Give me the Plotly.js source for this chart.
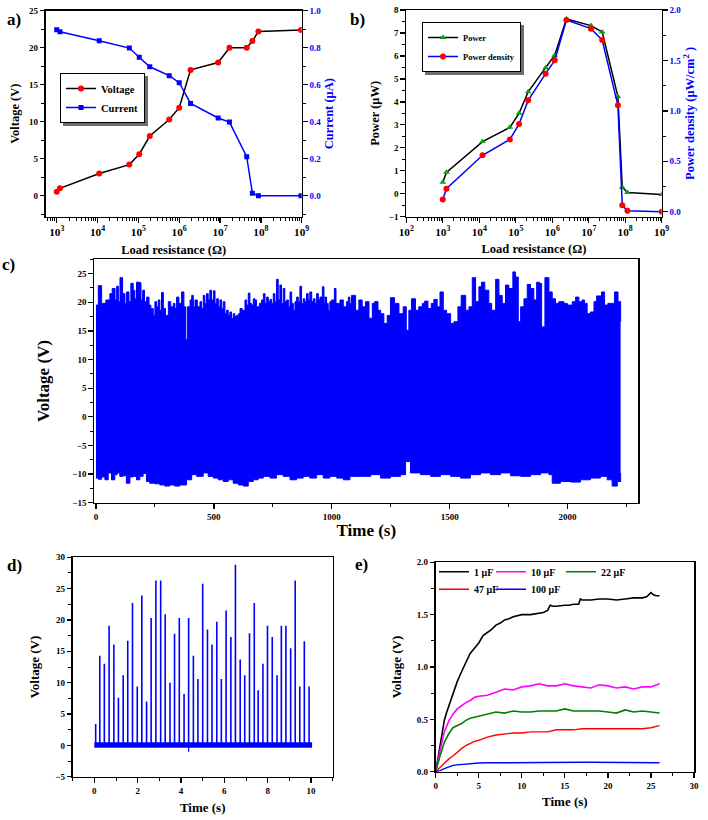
<!DOCTYPE html>
<html>
<head>
<meta charset="utf-8">
<script src="https://cdn.plot.ly/plotly-3.0.1.min.js"></script>
<style>
  html, body { margin: 0; padding: 0; background: #ffffff; }
  #chart { width: 708px; height: 820px; }
</style>
</head>
<body>
<div id="chart"></div>
<script>
// ---------- (a) voltage / current vs load resistance ----------
const aResistance = [1000, 1200, 11000, 60000, 105000, 190000, 570000, 1000000, 1900000,
                     9000000, 17000000, 45000000, 62000000, 87000000, 960000000];
const aVoltage = [0.54, 1.0, 3.0, 4.2, 5.6, 8.06, 10.3, 11.9, 17.0, 18.0, 20.0, 20.0, 20.9, 22.2, 22.4];
const aCurrent = [0.897, 0.886, 0.838, 0.798, 0.748, 0.697, 0.649, 0.611, 0.499, 0.42, 0.398, 0.211, 0.013, 0.0, 0.0];

// ---------- (b) power / power density vs load resistance ----------
const bResistance = [1000, 1260, 12300, 69000, 123000, 219000, 660000, 1170000, 2450000,
                     11500000, 23400000, 63000000, 83000000, 115000000, 1000000000];
const bPower = [0.5, 0.93, 2.27, 2.89, 3.50, 4.44, 5.49, 6.03, 7.61, 7.32, 7.04, 4.23, 0.28, 0.05, -0.03];
const bDensity = [0.122, 0.228, 0.559, 0.717, 0.869, 1.104, 1.369, 1.501, 1.901, 1.815, 1.702, 1.055, 0.063, 0.010, 0.0];

// ---------- (c) long-run output: peak and trough envelopes ----------
const cPeakTime = [0, 10, 24, 42, 59, 69, 81, 88, 95, 102, 113, 123, 130, 140, 148, 158, 165, 172, 184, 191,
  198, 206, 215, 225, 233, 243, 250, 257, 264, 271, 278, 286, 295, 307, 317, 328, 335, 342, 352, 363,
  373, 380, 387, 399, 406, 413, 420, 430, 441, 448, 455, 462, 469, 476, 483, 490, 498, 505, 512, 519,
  526, 533, 540, 547, 554, 561, 568, 575, 582, 589, 596, 604, 611, 620, 632, 639, 646, 653, 660, 667,
  674, 681, 693, 702, 710, 717, 724, 731, 738, 745, 752, 759, 766, 773, 780, 787, 794, 801, 809, 816,
  823, 830, 837, 844, 851, 858, 865, 872, 879, 886, 893, 900, 907, 915, 922, 929, 936, 943, 950, 960,
  967, 971, 978, 985, 992, 999, 1011, 1018, 1028, 1035, 1042, 1049, 1056, 1063, 1070, 1077, 1084,
  1101, 1115, 1129, 1143, 1158, 1172, 1182, 1196, 1207, 1221, 1235, 1249, 1266, 1285, 1303, 1316, 1327,
  1338, 1355, 1369, 1384, 1394, 1408, 1422, 1433, 1447, 1459, 1473, 1487, 1504, 1518, 1535, 1549, 1568,
  1582, 1596, 1610, 1624, 1635, 1649, 1666, 1678, 1695, 1709, 1723, 1737, 1751, 1768, 1779, 1791, 1801,
  1815, 1829, 1843, 1857, 1869, 1880, 1890, 1904, 1921, 1935, 1949, 1963, 1985, 1999, 2020, 2034, 2048,
  2062, 2072, 2083, 2097, 2112, 2123, 2144, 2157, 2171, 2185, 2199, 2214, 2225];
const cPeak = [19.5, 22.9, 19.8, 20.4, 21.5, 22.4, 20.4, 22.8, 20.1, 24.3, 21.5, 19.8, 21.8, 20.1, 23.3, 22.1, 20.6, 23.5, 23.4, 20.4,
  22.1, 20.1, 20.9, 19.5, 18.9, 17.7, 20.1, 19.2, 20.4, 18.6, 21.7, 18.9, 17.7, 20.1, 19.2, 19.8, 18.9, 20.9, 19.8, 21.8,
  19.2, 13.5, 19.2, 20.4, 21.2, 19.2, 20.4, 19.2, 20.1, 18.9, 21.2, 19.8, 21.5, 20.4, 22.1, 20.4, 22.0, 19.8, 20.6, 19.2,
  20.4, 18.9, 20.1, 18.0, 18.6, 17.7, 18.3, 17.2, 18.0, 17.5, 17.7, 18.0, 18.9, 18.6, 20.4, 19.5, 21.6, 19.8, 19.5, 20.6,
  20.4, 19.2, 19.8, 20.4, 21.5, 19.8, 20.9, 20.1, 20.5, 19.8, 21.5, 20.1, 24.0, 20.4, 23.0, 19.8, 22.4, 20.1, 20.4, 19.2,
  21.8, 19.8, 18.6, 20.1, 20.9, 20.1, 22.8, 19.8, 20.6, 20.1, 21.5, 20.4, 21.8, 20.1, 20.6, 19.8, 21.5, 20.4, 20.9, 22.7,
  19.8, 20.9, 19.8, 18.6, 20.1, 20.4, 22.4, 19.8, 19.8, 20.4, 20.4, 19.2, 19.2, 20.1, 20.9, 19.8, 21.2,
  18.6, 20.4, 19.2, 20.1, 17.2, 19.8, 20.1, 18.6, 18.0, 16.3, 17.7, 20.8, 19.8, 18.0, 19.2, 15.1, 18.6,
  20.6, 18.6, 19.2, 19.8, 20.2, 18.9, 19.8, 20.5, 19.2, 21.8, 18.6, 18.0, 16.3, 16.6, 19.2, 21.2, 18.6,
  19.2, 24.3, 20.1, 22.7, 23.5, 22.1, 19.8, 18.6, 24.0, 21.2, 19.8, 23.0, 22.4, 25.3, 24.4, 16.6, 19.2,
  20.6, 23.1, 22.4, 20.4, 23.5, 23.3, 15.7, 24.3, 21.8, 20.6, 19.8, 20.1, 19.8, 19.5, 20.1, 20.9, 20.1,
  20.4, 19.8, 18.0, 18.3, 20.1, 21.1, 21.8, 19.5, 19.8, 19.8, 21.8, 20.1, 16.6];
const cTroughTime = [0, 10, 24, 38, 52, 66, 80, 90, 101, 115, 129, 144, 158, 172, 186, 200, 214, 228, 250, 271,
  292, 313, 334, 356, 384, 406, 427, 455, 476, 498, 519, 540, 561, 582, 604, 625, 646, 667, 688, 710,
  738, 766, 794, 823, 851, 879, 907, 936, 964, 992, 1021, 1049, 1077, 1122, 1165, 1207, 1249, 1292, 1313,
  1334, 1376, 1419, 1461, 1504, 1546, 1588, 1631, 1673, 1716, 1758, 1801, 1843, 1886, 1921, 1935, 1970,
  2013, 2055, 2097, 2140, 2168, 2189, 2211, 2225];
const cTrough = [-10.7, -10.9, -10.5, -11.0, -9.8, -11.0, -10.1, -9.8, -10.4, -10.3, -11.6, -10.5, -10.4, -11.0, -10.4, -9.9, -11.3, -11.6, -11.7, -11.9,
  -12.1, -11.9, -12.1, -11.9, -11.0, -10.1, -10.4, -9.8, -10.4, -10.7, -11.0, -11.3, -11.0, -11.6, -11.9, -12.1, -11.3, -11.0, -10.7, -10.4,
  -10.7, -10.1, -10.4, -11.0, -10.7, -10.4, -10.7, -10.1, -10.7, -10.4, -10.7, -11.0, -10.4, -10.4, -10.1, -10.7, -10.4, -10.1, -7.8,
  -9.8, -10.1, -10.4, -10.1, -10.4, -10.7, -10.1, -9.8, -10.1, -9.8, -10.3, -10.4, -10.1, -9.8, -10.1, -11.6, -11.3,
  -11.4, -11.0, -10.7, -10.4, -11.0, -12.1, -11.3, -9.8];

// ---------- (d) pulse train over 10 s ----------
const dPulseTime = [0.06, 0.25, 0.46, 0.68, 0.90, 1.11, 1.33, 1.54, 1.76, 1.98, 2.19, 2.41, 2.62, 2.84, 3.06, 3.27,
  3.49, 3.70, 3.92, 4.14, 4.35, 4.57, 4.78, 5.00, 5.22, 5.43, 5.65, 5.86, 6.08, 6.30, 6.51, 6.73, 6.94, 7.16,
  7.38, 7.56, 7.78, 7.99, 8.21, 8.43, 8.63, 8.84, 9.06, 9.27, 9.48, 9.69, 9.91];
const dPulseV = [3.4, 14.3, 13.0, 19.1, 16.1, 7.6, 11.2, 16.7, 22.7, 9.4, 23.9, 7.0, 20.3, 26.3, 26.3, 20.9,
  10.0, 17.8, 20.3, 8.2, 20.3, 14.3, 10.6, 25.8, 18.5, 16.1, 19.7, 10.6, 21.5, 17.3, 28.8, 13.7, 11.2, 17.9,
  22.7, 8.8, 13.0, 19.1, 17.3, 11.2, 19.1, 19.1, 15.5, 26.3, 9.4, 16.6, 9.4];
const dBaseTime = [0, 10.05];
const dBaseV = [0.05, 0.05];
const dDipTime = [4.35];
const dDipV = [-1.0];

// ---------- (e) capacitor charging curves ----------
const eTimeFast = [0, 0.25, 0.5, 0.75, 1, 1.25, 1.5, 2, 2.5, 3, 3.5, 4, 4.5, 5, 5.5, 6, 6.5, 7, 7.5, 8, 8.5, 9,
  9.5, 10, 11, 12, 12.5, 13, 13.3, 13.6, 14, 15, 15.5, 16, 16.6, 16.8, 17, 18, 19, 20, 21, 22, 23, 24, 24.5,
  25, 25.3, 25.6, 26];
const e1uF = [0, 0.12, 0.24, 0.38, 0.49, 0.56, 0.62, 0.75, 0.86, 0.955, 1.05, 1.13, 1.18, 1.23, 1.30, 1.33,
  1.36, 1.40, 1.42, 1.45, 1.46, 1.48, 1.49, 1.50, 1.50, 1.51, 1.52, 1.54, 1.59, 1.58, 1.58, 1.59, 1.59, 1.60,
  1.60, 1.65, 1.64, 1.64, 1.65, 1.65, 1.64, 1.65, 1.66, 1.66, 1.67, 1.71, 1.69, 1.68, 1.68];
const eTime = [0, 0.25, 0.5, 1, 1.5, 2, 2.5, 3, 3.5, 4, 4.5, 5, 6, 7, 8, 9, 10, 11, 12, 13, 14, 15, 16, 17, 18,
  19, 20, 21, 22, 23, 24, 25, 26];
const e10uF = [0, 0.12, 0.2, 0.38, 0.48, 0.55, 0.60, 0.63, 0.66, 0.68, 0.71, 0.72, 0.73, 0.76, 0.79, 0.78, 0.81,
  0.82, 0.84, 0.82, 0.82, 0.84, 0.82, 0.81, 0.80, 0.83, 0.82, 0.80, 0.81, 0.79, 0.81, 0.81, 0.84];
const e22uF = [0, 0.09, 0.15, 0.28, 0.36, 0.42, 0.44, 0.46, 0.49, 0.51, 0.52, 0.53, 0.55, 0.57, 0.56, 0.58, 0.57,
  0.57, 0.58, 0.58, 0.58, 0.60, 0.58, 0.58, 0.58, 0.58, 0.57, 0.56, 0.59, 0.57, 0.58, 0.57, 0.56];
const e47uF = [0, 0.02, 0.04, 0.08, 0.12, 0.15, 0.19, 0.22, 0.25, 0.27, 0.29, 0.30, 0.33, 0.35, 0.36, 0.37, 0.37,
  0.38, 0.38, 0.38, 0.40, 0.40, 0.40, 0.41, 0.41, 0.41, 0.41, 0.41, 0.41, 0.41, 0.41, 0.42, 0.44];
const e100uF = [0, 0.005, 0.01, 0.03, 0.045, 0.06, 0.065, 0.07, 0.075, 0.08, 0.082, 0.083, 0.085, 0.086, 0.087,
  0.088, 0.09, 0.09, 0.09, 0.09, 0.09, 0.09, 0.09, 0.09, 0.09, 0.09, 0.09, 0.09, 0.09, 0.088, 0.087, 0.087, 0.085];

// ---------- styling helpers ----------
const SERIF = '"Liberation Serif", "Times New Roman", serif';
const BLUE = '#0000ff';
const W = 708, H = 820;
const px = v => v / W;           // horizontal pixel -> paper fraction
const py = v => 1 - v / H;       // vertical pixel -> paper fraction

function axis(opts) {
  const color = opts.labelColor || 'black';
  const out = {
    showline: true, linecolor: 'black', linewidth: 1.5, mirror: true,
    ticks: 'outside', ticklen: 4.5, tickwidth: 1.3, tickcolor: 'black',
    showgrid: false, zeroline: false,
    tickfont: { family: SERIF, size: 9, color: color, weight: 'bold' },
    minor: { ticks: 'outside', ticklen: 3, tickwidth: 1, tickcolor: 'black', showgrid: false },
    title: { text: opts.title || '', font: { family: SERIF, size: opts.titleSize || 12.5, color: color, weight: 'bold' },
             standoff: opts.standoff }
  };
  if (opts.minorDtick !== undefined) out.minor.dtick = opts.minorDtick;
  ['labelColor', 'title', 'titleSize', 'standoff', 'minorDtick'].forEach(k => delete opts[k]);
  return Object.assign(out, opts);
}

// pulse train of panel (d): vertical strokes rising from the baseline
const dX = [], dY = [];
dPulseTime.forEach((t, i) => { dX.push(t, t, t); dY.push(0, dPulseV[i], 0); });
const dipX = [], dipY = [];
dDipTime.forEach((t, i) => { dipX.push(t, t); dipY.push(0, dDipV[i]); });

const traces = [
  // (a)
  { x: aResistance, y: aVoltage, name: 'Voltage', xaxis: 'x', yaxis: 'y', mode: 'lines+markers',
    line: { color: 'black', width: 1.5 }, marker: { color: '#ff0000', size: 6, symbol: 'circle' }, legend: 'legend' },
  { x: aResistance, y: aCurrent, name: 'Current', xaxis: 'x', yaxis: 'y2', mode: 'lines+markers',
    line: { color: BLUE, width: 1.5 }, marker: { color: BLUE, size: 5, symbol: 'square' }, legend: 'legend' },
  // (b)
  { x: bResistance, y: bPower, name: 'Power', xaxis: 'x2', yaxis: 'y3', mode: 'lines+markers',
    line: { color: 'black', width: 1.5 }, marker: { color: '#10a010', size: 6, symbol: 'triangle-up' }, legend: 'legend2' },
  { x: bResistance, y: bDensity, name: 'Power density', xaxis: 'x2', yaxis: 'y4', mode: 'lines+markers',
    line: { color: BLUE, width: 1.5 }, marker: { color: '#ff0000', size: 6, symbol: 'circle' }, legend: 'legend2' },
  // (c)
  { x: cPeakTime, y: cPeak, xaxis: 'x3', yaxis: 'y5', mode: 'lines', showlegend: false,
    line: { color: BLUE, width: 1, shape: 'hv' }, hoverinfo: 'skip' },
  { x: cTroughTime, y: cTrough, xaxis: 'x3', yaxis: 'y5', mode: 'lines', showlegend: false,
    fill: 'tonexty', fillcolor: BLUE, line: { color: BLUE, width: 1, shape: 'hv' }, hoverinfo: 'skip' },
  // (d)
  { x: dBaseTime, y: dBaseV, xaxis: 'x4', yaxis: 'y6', mode: 'lines', showlegend: false,
    line: { color: BLUE, width: 5.5 } },
  { x: dX, y: dY, xaxis: 'x4', yaxis: 'y6', mode: 'lines', showlegend: false,
    line: { color: BLUE, width: 1.6 } },
  { x: dipX, y: dipY, xaxis: 'x4', yaxis: 'y6', mode: 'lines', showlegend: false,
    line: { color: BLUE, width: 1.2 } },
  // (e) — each series has its own single-entry legend so the key forms a 3 + 2 grid
  { x: eTimeFast, y: e1uF, name: '1 μF', xaxis: 'x5', yaxis: 'y7', mode: 'lines',
    line: { color: 'black', width: 1.6 }, legend: 'legend3' },
  { x: eTime, y: e10uF, name: '10 μF', xaxis: 'x5', yaxis: 'y7', mode: 'lines',
    line: { color: '#ff00ff', width: 1.6 }, legend: 'legend4' },
  { x: eTime, y: e22uF, name: '22 μF', xaxis: 'x5', yaxis: 'y7', mode: 'lines',
    line: { color: '#008000', width: 1.6 }, legend: 'legend5' },
  { x: eTime, y: e47uF, name: '47 μF', xaxis: 'x5', yaxis: 'y7', mode: 'lines',
    line: { color: '#ff0000', width: 1.4 }, legend: 'legend6' },
  { x: eTime, y: e100uF, name: '100 μF', xaxis: 'x5', yaxis: 'y7', mode: 'lines',
    line: { color: BLUE, width: 1.4 }, legend: 'legend7' }
];

const legendFont = size => ({ family: SERIF, size: size, color: 'black', weight: 'bold' });
const keyE = (left, rowY) => ({ x: px(left), y: py(rowY), xanchor: 'left', yanchor: 'middle',
  bgcolor: 'rgba(0,0,0,0)', borderwidth: 0, font: legendFont(10) });

const layout = {
  width: W, height: H,
  margin: { l: 0, r: 0, t: 0, b: 0, pad: 0 },
  paper_bgcolor: 'white', plot_bgcolor: 'white',
  font: { family: SERIF, color: 'black', weight: 'bold' },
  showlegend: true,

  // (a)
  xaxis: axis({ type: 'log', domain: [px(45.7), px(301.7)], range: [2.73, 9], anchor: 'y',
    dtick: 1, exponentformat: 'power', minorDtick: 'D1',
    title: 'Load resistance (Ω)', standoff: 8 }),
  yaxis: axis({ domain: [py(216.7), py(10.7)], range: [-2.84, 25], anchor: 'x', dtick: 5, minorDtick: 2.5,
    title: 'Voltage (V)', standoff: 6 }),
  yaxis2: axis({ overlaying: 'y', side: 'right', anchor: 'x', range: [-0.1136, 1.0], dtick: 0.2, minorDtick: 0.1,
    tickformat: '.1f', mirror: false, labelColor: BLUE, title: 'Current (μA)', standoff: 4 }),

  // (b)
  xaxis2: axis({ type: 'log', domain: [px(406.3), px(661.7)], range: [2, 9], anchor: 'y3',
    dtick: 1, exponentformat: 'power', minorDtick: 'D1',
    title: 'Load resistance (Ω)', standoff: 7 }),
  yaxis3: axis({ domain: [py(216.7), py(10)], range: [-1, 8], anchor: 'x2', dtick: 1, minorDtick: 0.5,
    title: 'Power (μW)', standoff: 6 }),
  yaxis4: axis({ overlaying: 'y3', side: 'right', anchor: 'x2', range: [-0.0496, 2.0], dtick: 0.5, minorDtick: 0.25,
    tickformat: '.1f', mirror: false, labelColor: BLUE, title: 'Power density (μW/cm<sup>2</sup> )', standoff: 5 }),

  // (c)
  xaxis3: axis({ domain: [px(94.3), px(638.3)], range: [-7, 2300], anchor: 'y5', dtick: 500, minorDtick: 250,
    title: 'Time (s)', titleSize: 17, standoff: 0 }),
  yaxis5: axis({ domain: [py(502.7), py(259.3)], range: [-15, 27.5], anchor: 'x3', dtick: 5, minorDtick: 2.5,
    title: 'Voltage (V)', titleSize: 17, standoff: 18 }),

  // (d)
  xaxis4: axis({ domain: [px(72.7), px(332.7)], range: [-1, 11], anchor: 'y6', dtick: 2, minorDtick: 1,
    title: 'Time (s)', titleSize: 13, standoff: 8 }),
  yaxis6: axis({ domain: [py(776.7), py(557.3)], range: [-5, 30], anchor: 'x4', dtick: 5, minorDtick: 2.5,
    title: 'Voltage (V)', titleSize: 13, standoff: 12 }),

  // (e)
  xaxis5: axis({ domain: [px(435.7), px(694)], range: [0, 30], anchor: 'y7', dtick: 5, minorDtick: 2.5,
    title: 'Time (s)', titleSize: 13, standoff: 7 }),
  yaxis7: axis({ domain: [py(771.7), py(562.3)], range: [0, 2], anchor: 'x5', dtick: 0.5, minorDtick: 0.25,
    tickformat: '.1f', title: 'Voltage (V)', titleSize: 13, standoff: 12 }),

  legend: { x: px(60), y: py(73), xanchor: 'left', yanchor: 'top', bgcolor: 'white', traceorder: 'normal',
            bordercolor: 'black', borderwidth: 1, font: legendFont(10.5), tracegroupgap: 0 },
  legend2: { x: px(422), y: py(22), xanchor: 'left', yanchor: 'top', bgcolor: 'white', traceorder: 'normal',
             bordercolor: 'black', borderwidth: 1, font: legendFont(8.5), tracegroupgap: 0 },
  legend3: keyE(434, 571.7),
  legend4: keyE(491, 571.7),
  legend5: keyE(561, 571.7),
  legend6: keyE(434, 589.3),
  legend7: keyE(491, 589.3),

  annotations: [
    { text: 'a)', x: px(14), y: py(19) },
    { text: 'b)', x: px(357), y: py(19) },
    { text: 'c)', x: px(8), y: py(264) },
    { text: 'd)', x: px(14), y: py(565) },
    { text: 'e)', x: px(361), y: py(564) }
  ].map(a => Object.assign({ xref: 'paper', yref: 'paper', showarrow: false, xanchor: 'center', yanchor: 'middle',
                             font: { family: SERIF, size: 17, color: 'black', weight: 'bold' } }, a))
};

// drop shadows behind the two boxed legends, sized from the rendered legend boxes
function addLegendShadows(gd) {
  const shapes = [];
  ['legend', 'legend2'].forEach(key => {
    const L = gd._fullLayout[key];
    if (!L || !L._width) return;
    const left = L.x * W, top = (1 - L.y) * H;
    const off = 3;
    shapes.push({ type: 'rect', xref: 'paper', yref: 'paper', layer: 'above',
      x0: px(left + off), x1: px(left + L._width + off),
      y0: py(top + L._height + off), y1: py(top + off),
      fillcolor: '#6e6e6e', line: { width: 0 } });
  });
  return Plotly.relayout(gd, { shapes: shapes });
}

Plotly.newPlot('chart', traces, layout, { staticPlot: true, displayModeBar: false })
  .then(addLegendShadows);
</script>
</body>
</html>
